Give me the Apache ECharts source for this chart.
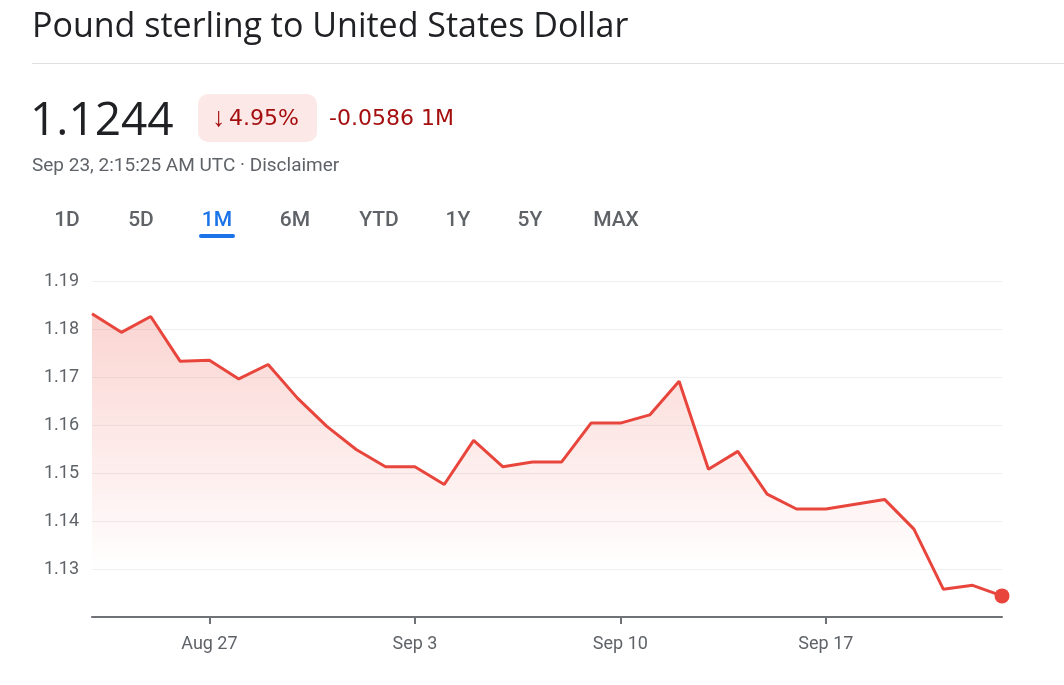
<!DOCTYPE html>
<html>
<head>
<meta charset="utf-8">
<script src="https://cdn.jsdelivr.net/npm/echarts@6/dist/echarts.min.js"></script>
<style>
html,body{margin:0;padding:0;background:#fff;}
#chart{width:1064px;height:685px;}
</style>
</head>
<body>
<div id="chart"></div>
<script>
const dates = ['Aug 23','Aug 24','Aug 25','Aug 26','Aug 27','Aug 28','Aug 29','Aug 30','Aug 31','Sep 1','Sep 2','Sep 3','Sep 4','Sep 5','Sep 6','Sep 7','Sep 8','Sep 9','Sep 10','Sep 11','Sep 12','Sep 13','Sep 14','Sep 15','Sep 16','Sep 17','Sep 18','Sep 19','Sep 20','Sep 21','Sep 22','Sep 23'];
const rates = [1.1832,1.1793,1.1826,1.1733,1.1735,1.1696,1.1726,1.1656,1.1597,1.1549,1.1513,1.1513,1.1476,1.1568,1.1513,1.1523,1.1523,1.1604,1.1604,1.1621,1.1691,1.1508,1.1545,1.1456,1.1425,1.1425,1.1435,1.1445,1.1383,1.1258,1.1266,1.1244];
const tickLabels = ['Aug 27','Sep 3','Sep 10','Sep 17'];
const tabs = ['1D','5D','1M','6M','YTD','1Y','5Y','MAX'];
const tabX = [67,141,217,295,379,458,530,616];

const lastIdx = rates.length - 1;
const chart = echarts.init(document.getElementById('chart'));
const gray = '#5f6368';
const red = '#a50e0e';

const graphics = [
  {type:'text', x:32, y:27, style:{text:'Pound sterling to United States Dollar', font:'34px "Open Sans", Roboto, sans-serif', fill:'#202124', textAlign:'left', textVerticalAlign:'middle'}},
  {type:'rect', shape:{x:32, y:63, width:1032, height:1}, style:{fill:'#e0e0e0'}},
  {type:'text', x:30, y:122, style:{text:'1.1244', font:'46px "Open Sans", Roboto, sans-serif', fill:'#202124', textAlign:'left', textVerticalAlign:'middle'}},
  {type:'rect', shape:{x:198, y:94, width:119, height:48, r:10}, style:{fill:'#fce8e6'}},
  {type:'text', x:212, y:119, style:{text:'\u2193', font:'27px Roboto, sans-serif', fill:red, textAlign:'left', textVerticalAlign:'middle'}},
  {type:'text', x:229, y:119, style:{text:'4.95%', font:'22px "DejaVu Sans", sans-serif', fill:red, textAlign:'left', textVerticalAlign:'middle'}},
  {type:'text', x:329, y:119, style:{text:'-0.0586 1M', font:'22px "DejaVu Sans", sans-serif', fill:red, textAlign:'left', textVerticalAlign:'middle'}},
  {type:'text', x:32, y:166, style:{text:'Sep 23, 2:15:25 AM UTC \u00b7 Disclaimer', font:'19px Roboto, sans-serif', fill:gray, textAlign:'left', textVerticalAlign:'middle'}},
  {type:'rect', shape:{x:199, y:234, width:36, height:4, r:2}, style:{fill:'#1a73e8'}}
];
tabs.forEach((t,i)=>{
  graphics.push({type:'text', x:tabX[i], y:221, style:{text:t, font:'500 21px Roboto, sans-serif', fill: t==='1M' ? '#1a73e8' : gray, textAlign:'center', textVerticalAlign:'middle'}});
});

chart.setOption({
  animation:false,
  graphic: graphics,
  grid:{left:92, right:62, top:281, bottom:68, containLabel:false},
  xAxis:{
    type:'category',
    data:dates,
    boundaryGap:false,
    axisLine:{lineStyle:{color:'#6e7175', width:2}},
    axisTick:{show:true, length:7, lineStyle:{color:'#6e7175', width:2}, interval:(i,v)=>tickLabels.includes(v)},
    axisLabel:{color:gray, fontSize:18, fontFamily:'Roboto', margin:18, interval:(i,v)=>tickLabels.includes(v)},
    splitLine:{show:false}
  },
  yAxis:{
    type:'value',
    min:1.12, max:1.19, interval:0.01,
    axisLine:{show:false},
    axisTick:{show:false},
    axisLabel:{color:gray, fontSize:18, fontFamily:'Roboto', margin:13, showMinLabel:false, formatter:v=>v.toFixed(2)},
    splitLine:{lineStyle:{color:'#efefef', width:1}}
  },
  series:[
    {
      type:'line',
      data:rates,
      showSymbol:false,
      lineStyle:{color:'#e8453c', width:3},
      itemStyle:{color:'#e8453c'},
      areaStyle:{color:new echarts.graphic.LinearGradient(0,0,0,1,[{offset:0,color:'rgba(234,67,53,0.32)'},{offset:0.85,color:'rgba(234,67,53,0.0)'},{offset:1,color:'rgba(234,67,53,0)'}])},
      z:2
    },
    {
      type:'scatter',
      data:[[lastIdx, rates[lastIdx]]],
      symbolSize:15,
      itemStyle:{color:'#e8453c', opacity:1},
      z:3
    }
  ]
});
</script>
</body>
</html>
